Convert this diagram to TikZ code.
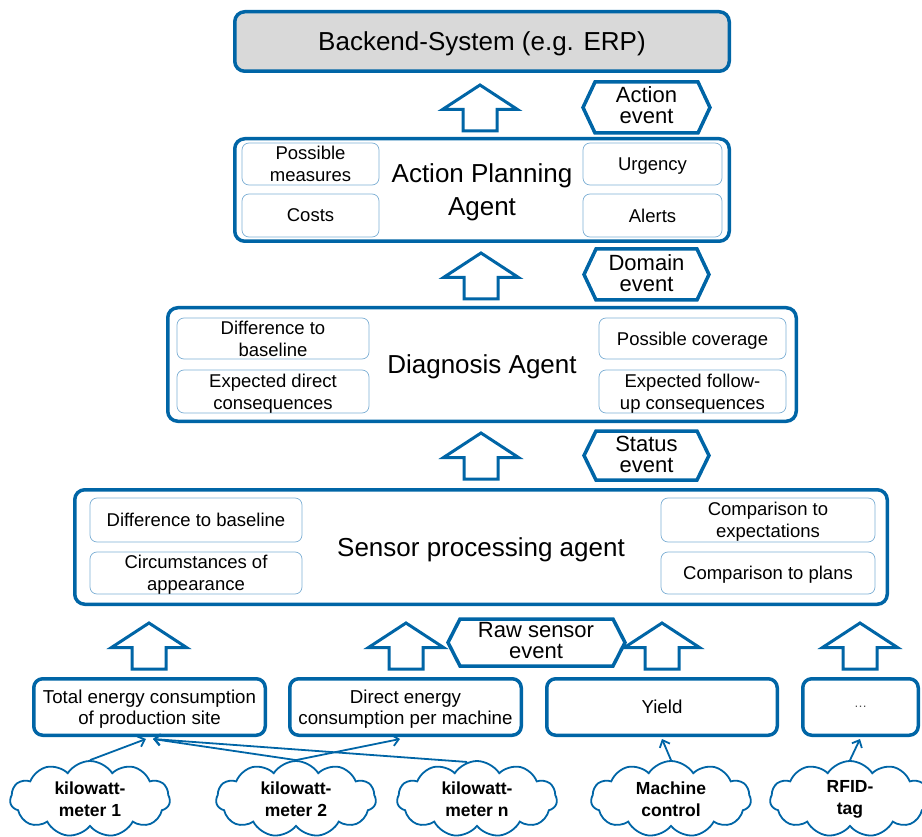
\documentclass[tikz,border=0pt]{standalone}
\usepackage{fontspec}
\setmainfont{Liberation Sans}
\usetikzlibrary{shapes.symbols,arrows.meta}
\definecolor{mblue}{RGB}{0,101,166}
\definecolor{lblue}{RGB}{125,175,212}
\definecolor{bgray}{RGB}{217,217,217}
\tikzset{
  mainbox/.style={draw=mblue, line width=3.5pt, rounded corners=10pt, inner sep=0pt, align=center,
    text depth=0pt, font={\fontsize{26}{33}\selectfont}},
  innerbox/.style={draw=lblue, line width=0.7pt, rounded corners=7pt, inner sep=0pt, align=center,
    text depth=0pt, font={\fontsize{18.5}{22}\selectfont}},
  lowbox/.style={draw=mblue, line width=3.5pt, rounded corners=9pt, inner sep=0pt, align=center,
    text depth=0pt, minimum height=56.5pt, font={\fontsize{18.7}{21.5}\selectfont}},
  hexline/.style={draw=mblue, line width=3.5pt, line join=miter},
  evtext/.style={inner sep=0pt, align=center, font={\fontsize{22}{21}\selectfont}},
  blockarrow/.style={draw=mblue, line width=3pt, fill=white, line join=miter},
  cloudst/.style={cloud, cloud puffs=11, cloud puff arc=115, cloud ignores aspect, draw=mblue,
    line width=1.8pt, minimum width=160pt, minimum height=76pt, inner sep=0pt, align=center,
    font={\bfseries\fontsize{17.5}{22}\selectfont}},
  conn/.style={draw=mblue, line width=1.8pt, -{Straight Barb[length=6pt,width=11pt]}},
  uparr/.pic={\path[blockarrow] (0,0) -- (37.5,24.5) -- (17,24.5) -- (17,46) -- (-17,46) -- (-17,24.5) -- (-37.5,24.5) -- cycle;}
}
\begin{document}
\begin{tikzpicture}[x=1pt,y=-1pt]
\useasboundingbox (0,0) rectangle (922,837);

% top backend
\node[mainbox, fill=bgray, minimum width=494.5pt, minimum height=59.5pt] (backend) at (482,41.5) {Backend-System (e.g. ERP)};

% action planning agent
\node[mainbox, text depth=-6pt, minimum width=494.5pt, minimum height=102.5pt] (action) at (482,190) {Action Planning\\Agent};
\node[innerbox, minimum width=137pt, minimum height=42pt] (pm) at (310.5,164) {Possible\\measures};
\node[innerbox, minimum width=137pt, minimum height=43pt] (costs) at (310.5,215.5) {Costs};
\node[innerbox, minimum width=139pt, minimum height=42pt] (urg) at (652.5,164) {Urgency};
\node[innerbox, minimum width=139pt, minimum height=43pt] (alerts) at (652.5,215.5) {Alerts};

% diagnosis agent
\node[mainbox, text depth=-7pt, minimum width=628.5pt, minimum height=113.5pt] (diag) at (482,364.5) {Diagnosis Agent};
\node[innerbox, minimum width=192pt, minimum height=41pt] (d1) at (273,338.5) {Difference to\\baseline};
\node[innerbox, minimum width=192pt, minimum height=43pt] (d2) at (273,391.5) {Expected direct\\consequences};
\node[innerbox, minimum width=187pt, minimum height=41pt] (d3) at (692.5,338.5) {Possible coverage};
\node[innerbox, minimum width=187pt, minimum height=43pt] (d4) at (692.5,391.5) {Expected follow-\\up consequences};

% sensor processing agent
\node[mainbox, minimum width=812.5pt, minimum height=114.5pt] (sensor) at (481,547) {Sensor processing agent};
\node[innerbox, minimum width=212pt, minimum height=44pt] (s1) at (196,520) {Difference to baseline};
\node[innerbox, minimum width=212pt, minimum height=42pt] (s2) at (196,573) {Circumstances of\\appearance};
\node[innerbox, minimum width=214pt, minimum height=44pt] (s3) at (768,520) {Comparison to\\expectations};
\node[innerbox, minimum width=214pt, minimum height=42pt] (s4) at (768,573) {Comparison to plans};

% block arrows
\pic at (480,85) {uparr};
\pic at (481,253) {uparr};
\pic at (481,433) {uparr};
\pic at (149,623) {uparr};
\pic at (406,623) {uparr};
\pic at (662,623) {uparr};
\pic at (860,623) {uparr};

% event hexagons
\path[hexline] (583,107.5) -- (595,82) -- (698,82) -- (710,107.5) -- (698,133) -- (595,133) -- cycle;
\node[evtext] (ae) at (646.5,105.5) {Action\\event};
\path[hexline] (584,274.5) -- (596,249) -- (697,249) -- (709,274.5) -- (697,300) -- (596,300) -- cycle;
\node[evtext] (de) at (646.5,273) {Domain\\event};
\path[hexline] (584,455.5) -- (596,431) -- (697,431) -- (709,455.5) -- (697,480) -- (596,480) -- cycle;
\node[evtext] (se) at (646.5,454) {Status\\event};
\path[hexline] (448,642.5) -- (460,619) -- (613,619) -- (625,642.5) -- (613,666) -- (460,666) -- cycle;
\node[evtext] (re) at (536,640.5) {Raw sensor\\event};

% lower boxes
\node[lowbox, minimum width=231.5pt] (total) at (149.5,707) {Total energy consumption\\of production site};
\node[lowbox, minimum width=231.5pt] (direct) at (405.5,707) {Direct energy\\consumption per machine};
\node[lowbox, minimum width=230.5pt] (yield) at (662,707) {Yield};
\node[lowbox, minimum width=115.5pt, font={\fontsize{13}{16}\selectfont}] (dots) at (860.5,707) {\textcolor{black!70}{\ldots}};

% clouds
\node[cloudst] (c1) at (90,799) {kilowatt-\\meter 1};
\node[cloudst] (c2) at (296,799) {kilowatt-\\meter 2};
\node[cloudst] (c3) at (477,799) {kilowatt-\\meter n};
\node[cloudst] (mc) at (671,799) {Machine\\control};
\node[cloudst] (rf) at (850,799) {RFID-\\tag};

% connector end points on the boxes
\coordinate (t1) at (146,739);
\coordinate (t2) at (153,739);
\coordinate (dr) at (400,739);
\coordinate (yl) at (662,739);
\coordinate (dt) at (860,739);

\draw[conn] (c1.north) -- (t1);
\draw[conn] (c2.north) -- (t2);
\draw[conn] (c2.north) -- (dr);
\draw[conn] (c3.105) -- (t2);
\draw[conn] (mc.north) -- (yl);
\draw[conn] (rf.north) -- (dt);
\end{tikzpicture}
\end{document}
